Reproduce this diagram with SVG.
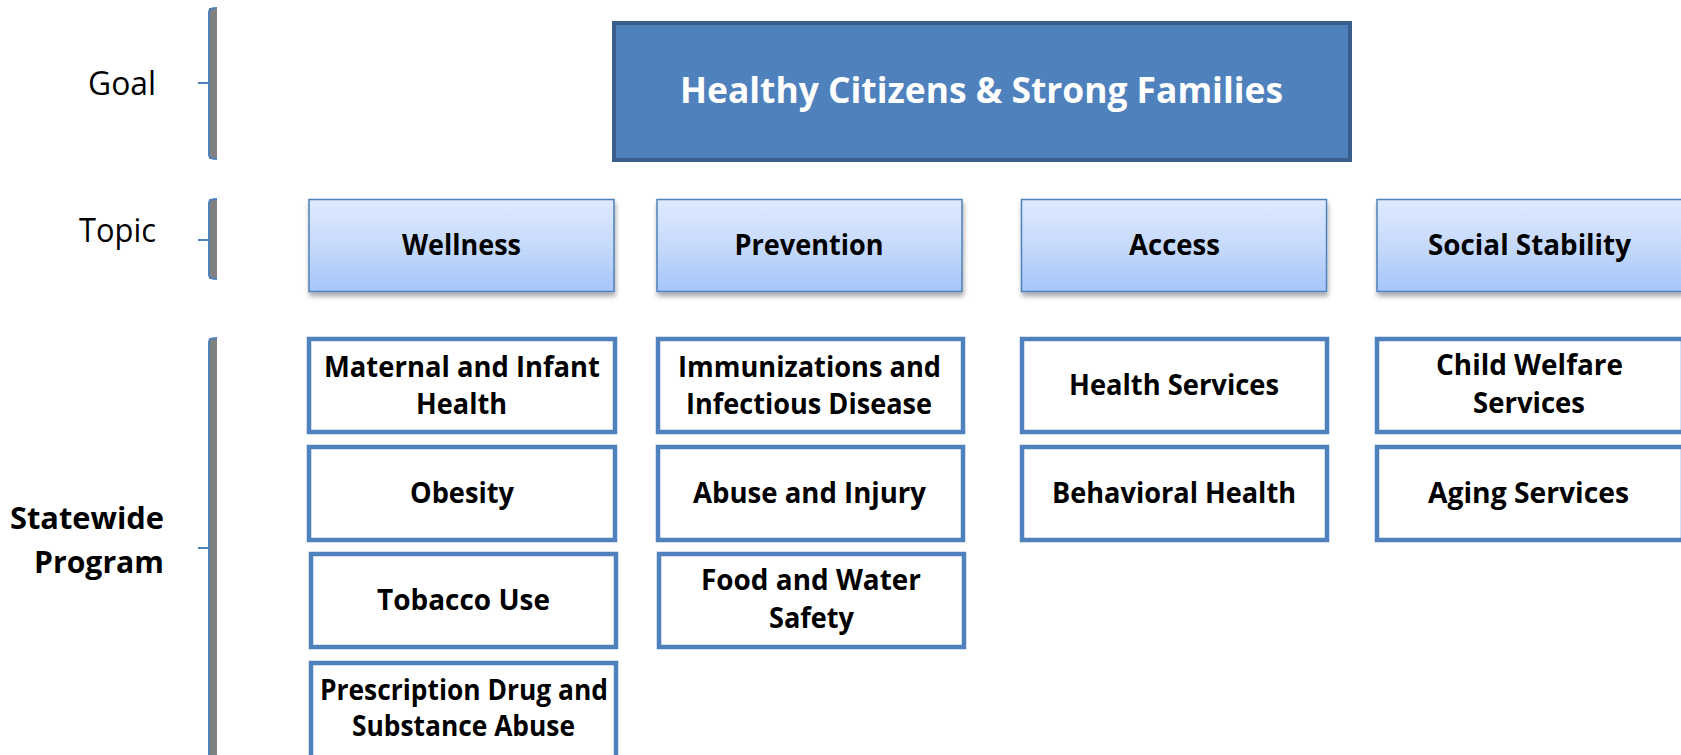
<svg xmlns="http://www.w3.org/2000/svg" width="1681" height="755" viewBox="0 0 1681 755">
<style>
  .lbl { font-family: "Open Sans", "Noto Sans", "Liberation Sans", sans-serif; fill: #000; }
  .reg { font-weight: 400; font-size: 32px; }
  .bold { font-weight: 700; }
  .topic { font-size: 28px; text-anchor: middle; font-weight: 700; }
  .prog { font-size: 29px; text-anchor: middle; font-weight: 700; }
  .pbox { fill: #FFFFFF; stroke: #4F81BD; stroke-width: 4.5; }
  .tbox { fill: url(#tgrad); stroke: #4F81BD; stroke-width: 1.5; filter: url(#shadow); }
  .bar { fill: #808080; }
  .bline { fill: none; stroke: #4F81BD; stroke-width: 2; }
</style>
<defs>
  <linearGradient id="tgrad" x1="0" y1="0" x2="0" y2="1">
    <stop offset="0" stop-color="#DFE9FD"/>
    <stop offset="0.5" stop-color="#C6DAFB"/>
    <stop offset="1" stop-color="#A6C5FA"/>
  </linearGradient>
  <filter id="shadow" x="-5%" y="-10%" width="110%" height="130%">
    <feDropShadow dx="1" dy="4" stdDeviation="2.5" flood-color="#000" flood-opacity="0.35"/>
  </filter>
</defs>
<rect width="1681" height="755" fill="#FFFFFF"/>

<g id="brackets">
  <g id="bracket-goal">
    <rect class="bar" x="209" y="8" width="8" height="151"/>
    <path class="bline" d="M217,8 Q209,8 209,12 V155 Q209,159 217,159 M198,83 H209"/>
  </g>
  <g id="bracket-topic">
    <rect class="bar" x="209" y="199" width="8" height="80"/>
    <path class="bline" d="M217,199 Q209,199 209,203 V275 Q209,279 217,279 M198,240 H209"/>
  </g>
  <g id="bracket-program">
    <rect class="bar" x="209" y="338" width="8" height="420"/>
    <path class="bline" d="M217,338 Q209,338 209,342 V760 M198,548 H209"/>
  </g>
</g>

<g id="level-labels">
  <text class="lbl reg" x="88" y="95" textLength="68" lengthAdjust="spacingAndGlyphs">Goal</text>
  <text class="lbl reg" x="79" y="242" textLength="77" lengthAdjust="spacingAndGlyphs">Topic</text>
  <text class="lbl bold" font-size="30" x="164" y="529" text-anchor="end" textLength="154" lengthAdjust="spacingAndGlyphs">Statewide</text>
  <text class="lbl bold" font-size="30" x="164" y="573" text-anchor="end" textLength="130" lengthAdjust="spacingAndGlyphs">Program</text>
</g>

<g id="goal">
  <rect x="614" y="23" width="736" height="137" fill="#4F81BD" stroke="#3A5F8C" stroke-width="4"/>
  <text x="981.5" y="103" text-anchor="middle" font-family="Open Sans, Noto Sans, Liberation Sans, sans-serif" font-weight="700" font-size="36" fill="#FFFFFF" textLength="603" lengthAdjust="spacingAndGlyphs">Healthy Citizens &amp; Strong Families</text>
</g>

<g id="topic-wellness">
  <rect class="tbox" x="309" y="199.5" width="305" height="92"/>
  <text class="lbl topic" x="461.5" y="255" textLength="119" lengthAdjust="spacingAndGlyphs">Wellness</text>
</g>
<g id="topic-prevention">
  <rect class="tbox" x="657" y="199.5" width="305" height="92"/>
  <text class="lbl topic" x="809" y="255" textLength="149" lengthAdjust="spacingAndGlyphs">Prevention</text>
</g>
<g id="topic-access">
  <rect class="tbox" x="1021.5" y="199.5" width="305" height="92"/>
  <text class="lbl topic" x="1174.5" y="255" textLength="91" lengthAdjust="spacingAndGlyphs">Access</text>
</g>
<g id="topic-social-stability">
  <rect class="tbox" x="1377" y="199.5" width="306" height="92"/>
  <text class="lbl topic" x="1529.5" y="255" textLength="203" lengthAdjust="spacingAndGlyphs">Social Stability</text>
</g>

<g id="prog-maternal-infant">
  <rect class="pbox" x="309" y="339" width="306" height="93"/>
  <text class="lbl prog" x="462" y="377" textLength="276" lengthAdjust="spacingAndGlyphs">Maternal and Infant</text>
  <text class="lbl prog" x="461.5" y="414" textLength="91" lengthAdjust="spacingAndGlyphs">Health</text>
</g>
<g id="prog-obesity">
  <rect class="pbox" x="309" y="447" width="306" height="93"/>
  <text class="lbl prog" x="462" y="503" textLength="104" lengthAdjust="spacingAndGlyphs">Obesity</text>
</g>
<g id="prog-tobacco">
  <rect class="pbox" x="311" y="554" width="305" height="93"/>
  <text class="lbl prog" x="463.5" y="610" textLength="173" lengthAdjust="spacingAndGlyphs">Tobacco Use</text>
</g>
<g id="prog-prescription-drug">
  <rect class="pbox" x="311" y="663" width="305" height="100"/>
  <text class="lbl prog" x="464" y="700" textLength="288" lengthAdjust="spacingAndGlyphs">Prescription Drug and</text>
  <text class="lbl prog" x="463.5" y="736" textLength="223" lengthAdjust="spacingAndGlyphs">Substance Abuse</text>
</g>

<g id="prog-immunizations">
  <rect class="pbox" x="658" y="339" width="305" height="93"/>
  <text class="lbl prog" x="809.5" y="377" textLength="263" lengthAdjust="spacingAndGlyphs">Immunizations and</text>
  <text class="lbl prog" x="809" y="414" textLength="246" lengthAdjust="spacingAndGlyphs">Infectious Disease</text>
</g>
<g id="prog-abuse-injury">
  <rect class="pbox" x="658" y="447" width="305" height="93"/>
  <text class="lbl prog" x="809.5" y="503" textLength="233" lengthAdjust="spacingAndGlyphs">Abuse and Injury</text>
</g>
<g id="prog-food-water">
  <rect class="pbox" x="659" y="554" width="305" height="93"/>
  <text class="lbl prog" x="811" y="590" textLength="220" lengthAdjust="spacingAndGlyphs">Food and Water</text>
  <text class="lbl prog" x="811.5" y="628" textLength="85" lengthAdjust="spacingAndGlyphs">Safety</text>
</g>

<g id="prog-health-services">
  <rect class="pbox" x="1022" y="339" width="305" height="93"/>
  <text class="lbl prog" x="1174" y="395" textLength="210" lengthAdjust="spacingAndGlyphs">Health Services</text>
</g>
<g id="prog-behavioral-health">
  <rect class="pbox" x="1022" y="447" width="305" height="93"/>
  <text class="lbl prog" x="1174" y="503" textLength="244" lengthAdjust="spacingAndGlyphs">Behavioral Health</text>
</g>

<g id="prog-child-welfare">
  <rect class="pbox" x="1377" y="339" width="306" height="93"/>
  <text class="lbl prog" x="1529.5" y="375" textLength="187" lengthAdjust="spacingAndGlyphs">Child Welfare</text>
  <text class="lbl prog" x="1529" y="413" textLength="112" lengthAdjust="spacingAndGlyphs">Services</text>
</g>
<g id="prog-aging-services">
  <rect class="pbox" x="1377" y="447" width="306" height="93"/>
  <text class="lbl prog" x="1528.5" y="503" textLength="201" lengthAdjust="spacingAndGlyphs">Aging Services</text>
</g>
</svg>
